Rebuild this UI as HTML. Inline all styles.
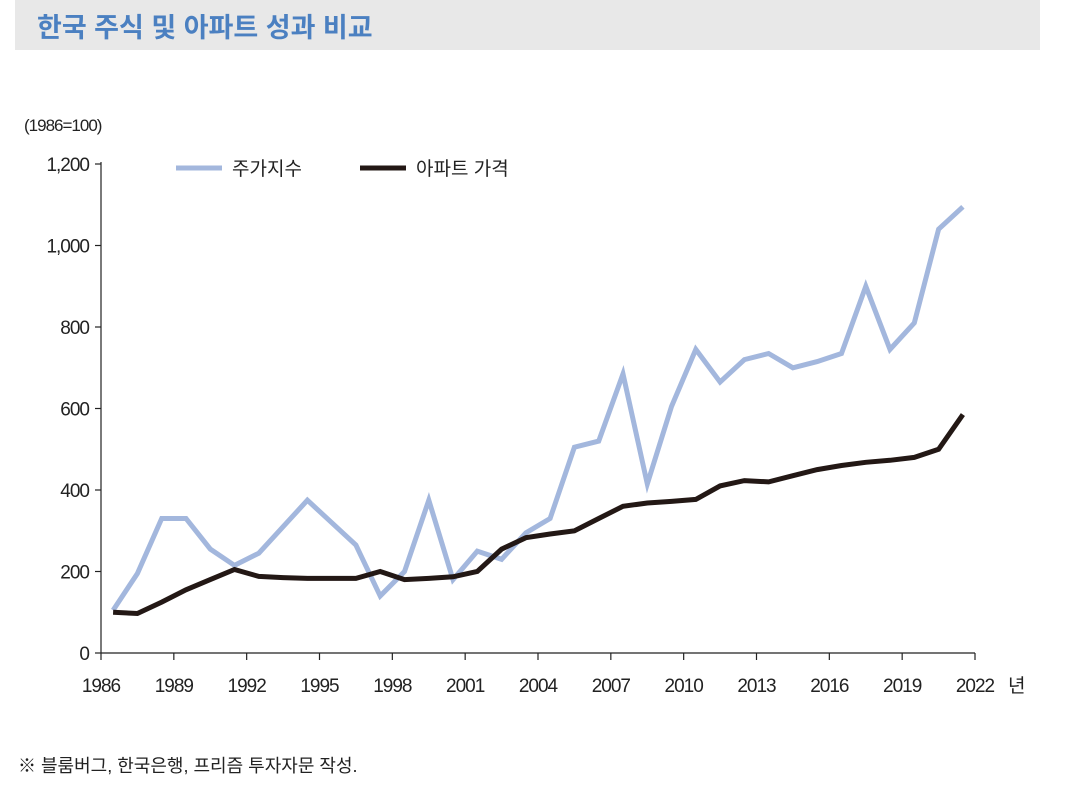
<!DOCTYPE html>
<html><head><meta charset="utf-8">
<style>
body{margin:0;background:#fff;width:1092px;height:809px;overflow:hidden;font-family:"Liberation Sans","Noto Sans CJK KR",sans-serif;}
#title{position:absolute;left:15px;top:0;width:1025px;height:50px;background:#e8e8e8;}
#title span{position:absolute;left:22px;top:6px;font-size:27px;font-weight:bold;color:#4b80c1;}
svg{position:absolute;left:0;top:0;}
</style></head><body>
<div id="title"><span>한국 주식 및 아파트 성과 비교</span></div>
<svg id="chart" width="1092" height="809"></svg>
<script>
const years=[];for(let y=1986;y<=2021;y++)years.push(y);
const stockValues=[105,195,330,330,255,215,245,310,375,320,265,140,200,375,180,250,230,295,330,505,520,685,415,605,745,665,720,735,700,715,735,900,745,810,1040,1095];
const aptValues=[100,97,125,155,180,205,188,185,183,183,183,200,180,183,187,200,255,283,292,300,330,360,368,372,377,410,423,420,435,450,460,468,473,480,500,585];
const yTicks=[0,200,400,600,800,1000,1200];
const yTickLabels=["0","200","400","600","800","1,000","1,200"];
const xTicks=[1986,1989,1992,1995,1998,2001,2004,2007,2010,2013,2016,2019,2022];
const NS="http://www.w3.org/2000/svg";
const svg=document.getElementById('chart');
const x0=101,x1=975,y0=653,y1=164;
const xs=y=>x0+(y-1986)/36*(x1-x0);
const ys=v=>y0-v/1200*(y0-y1);
function el(t,a){const e=document.createElementNS(NS,t);for(const k in a)e.setAttribute(k,a[k]);svg.appendChild(e);return e;}
let e;
e=el('line',{x1:x0,y1:y1-2,x2:x0,y2:y0,stroke:'#222','stroke-width':1.2});


e=el('line',{x1:x0,y1:y0,x2:x1,y2:y0,stroke:'#222','stroke-width':1.2});


yTicks.forEach((v,i)=>{
 el('line',{x1:x0-6,y1:ys(v),x2:x0,y2:ys(v),stroke:'#222','stroke-width':1.2});
 const t=el('text',{x:x0-12,y:ys(v)+7,'text-anchor':'end','font-size':19,fill:'#222','letter-spacing':'-1'});
 t.textContent=yTickLabels[i];
 
 
});
xTicks.forEach(y=>{
 el('line',{x1:xs(y),y1:y0,x2:xs(y),y2:y0+7,stroke:'#222','stroke-width':1.2});
 const t=el('text',{x:xs(y),y:y0+39,'text-anchor':'middle','font-size':19,fill:'#222','letter-spacing':'-1'});
 t.textContent=y;
 
 
});
e=el('text',{x:1008,y:692,'font-size':19,fill:'#222'});e.textContent='년';


e=el('text',{x:24,y:131,'font-size':17,fill:'#222','letter-spacing':'-1'});e.textContent='(1986=100)';


function line(vals,color,name){
 const d=vals.map((v,i)=>(i?'L':'M')+(xs(years[i]+0.5)).toFixed(1)+','+ys(v).toFixed(1)).join('');
 const p=el('path',{d:d,fill:'none',stroke:color,'stroke-width':5,'stroke-linejoin':'miter'});
 
 
}
line(stockValues,'#a3b7dd','stock-index-line');
line(aptValues,'#231815','apartment-price-line');
e=el('line',{x1:176,y1:168,x2:222,y2:168,stroke:'#a3b7dd','stroke-width':5});


e=el('text',{x:232,y:175,'font-size':19,fill:'#222'});e.textContent='주가지수';


e=el('line',{x1:360,y1:168,x2:406,y2:168,stroke:'#231815','stroke-width':5});


e=el('text',{x:416,y:175,'font-size':19,fill:'#222'});e.textContent='아파트 가격';


e=el('text',{x:18,y:772,'font-size':18,fill:'#222'});e.textContent='※ 블룸버그, 한국은행, 프리즘 투자자문 작성.';


</script>
</body></html>
